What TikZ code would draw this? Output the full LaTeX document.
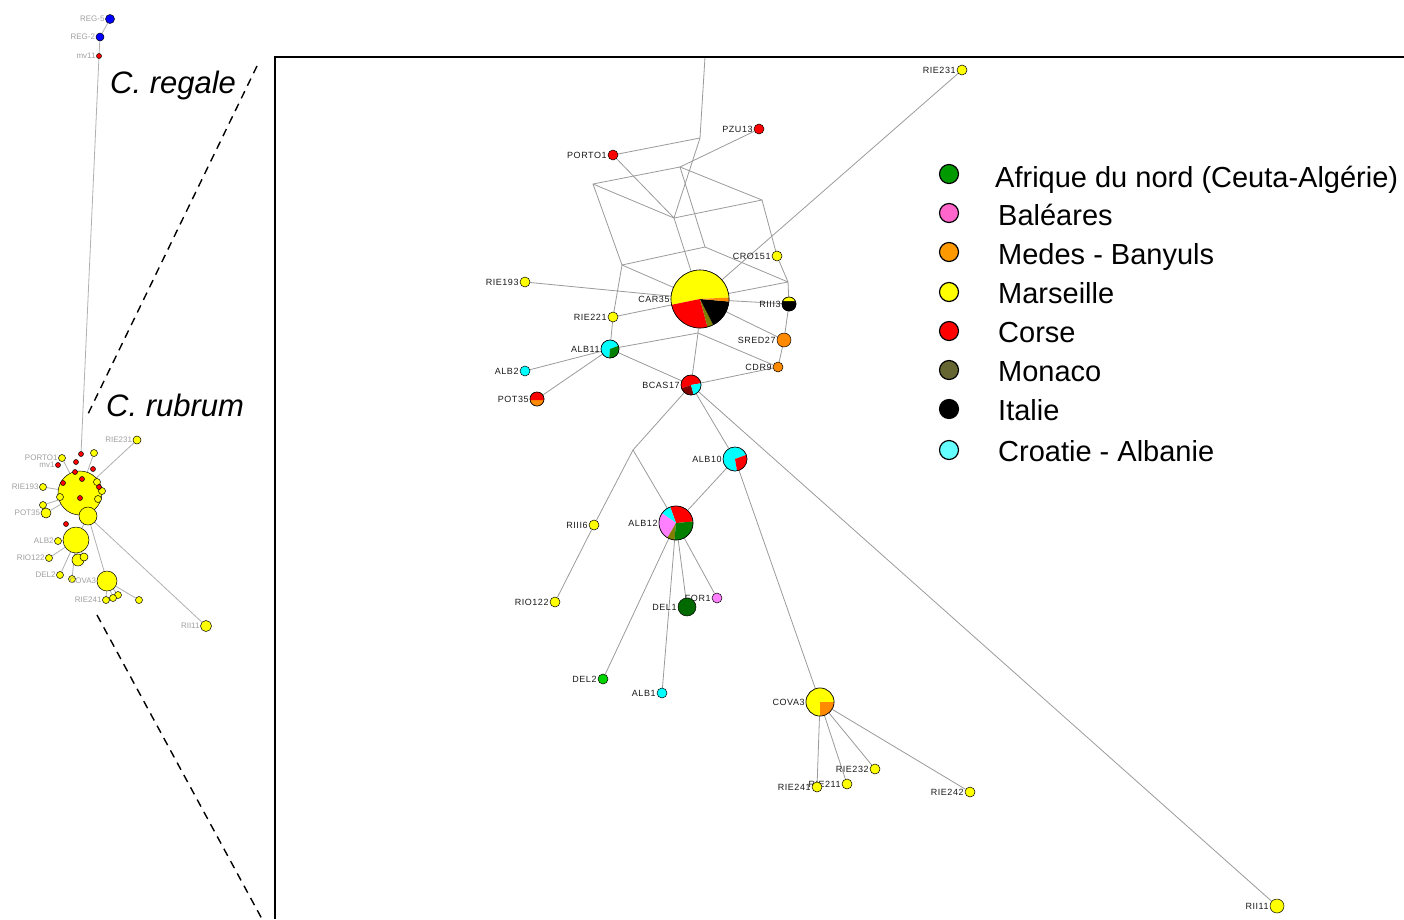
\documentclass[tikz,border=0pt]{standalone}
\usepackage{fontspec}
\setmainfont{Liberation Sans}
\newfontfamily\lblfont{Liberation Sans}[LetterSpace=6]
\usetikzlibrary{backgrounds}
\definecolor{edgegray}{HTML}{9A9A9A}
\definecolor{sedge}{HTML}{B0B0B0}
\definecolor{cyanP}{HTML}{00FFFF}
\definecolor{greenP}{HTML}{007F00}
\definecolor{delone}{HTML}{006A00}
\definecolor{deltwo}{HTML}{00D400}
\definecolor{pinkP}{HTML}{FF80FF}
\definecolor{orangeP}{HTML}{FF8A00}
\definecolor{oliveP}{HTML}{7F7F00}
\definecolor{darkredP}{HTML}{800000}
\definecolor{yellowP}{HTML}{FFFF00}
\definecolor{redP}{HTML}{FF0000}
\definecolor{blueR}{HTML}{0000FF}
\definecolor{legGreen}{HTML}{009900}
\definecolor{legPink}{HTML}{FF66CC}
\definecolor{legOrange}{HTML}{FF9900}
\definecolor{legOlive}{HTML}{666633}
\definecolor{legCyan}{HTML}{66FFFF}
\newcommand\mypie[5]{\fill[#5] (#1.center) -- +(#3:#2) arc[start angle=#3,end angle=#4,radius=#2] -- cycle;}
\newcommand\mychord[5]{\fill[#5] (#1.center) ++(#3:#2) arc[start angle=#3,end angle=#4,radius=#2] -- cycle;}
\newcommand\mypieo[2]{\draw[line width=0.6pt] (#1.center) circle[radius=#2];}
\begin{document}
\begin{tikzpicture}[x=1pt,y=1pt,
  sn/.style={circle,draw=black,line width=0.5pt,inner sep=0pt,minimum size=#1},
  lbl/.style={font={\lblfont\fontsize{9}{10}\selectfont},text=black!90,inner sep=1pt},
  lab/.style={label={[lbl]left:#1}},
  slbl/.style={font={\fontsize{8}{9}\selectfont},text=gray!75,inner sep=0.5pt},
  slab/.style={label={[slbl]left:#1}},
  edge/.style={draw=edgegray,line width=0.8pt},
  sedg/.style={draw=sedge,line width=0.8pt},
  legdot/.style={circle,draw=black,line width=1.2pt,inner sep=0pt,minimum size=19pt},
  legtxt/.style={anchor=base west,inner sep=0pt,font={\fontsize{29}{33}\selectfont}},
  species/.style={anchor=base west,inner sep=0pt,font={\itshape\fontsize{31}{35}\selectfont}},
  frame/.style={line width=2pt,draw=black},
  zoomline/.style={line width=1.4pt,dash pattern=on 8pt off 6pt}]
\path[use as bounding box] (0,-919) rectangle (1404,0);

% ---------------- left overview panel ----------------
\node[sn=9pt,fill=blueR,slab=REG-5] (sREG5) at (110,-19) {};
\node[sn=8pt,fill=blueR,slab=REG-2] (sREG2) at (100,-37) {};
\node[sn=5pt,fill=redP,slab=mv11] (smv11) at (99,-56) {};
\node[sn=44pt,fill=yellowP] (sCAR) at (80,-493) {};
\node[sn=8pt,fill=yellowP,slab=RIE231] (sRIE231) at (137,-440) {};
\node[sn=7pt,fill=yellowP] (sy1) at (94,-453) {};
\node[sn=7pt,fill=yellowP,slab=PORTO1] (sPORTO) at (62,-458) {};
\node[sn=7pt,fill=yellowP,slab=RIE193] (sRIE193) at (43,-487) {};
\node[sn=7pt,fill=yellowP] (sy2) at (97,-482) {};
\node[sn=7pt,fill=yellowP] (sy3) at (102,-491) {};
\node[sn=7pt,fill=yellowP] (sy4) at (98,-499) {};
\node[sn=7pt,fill=yellowP] (sALB11) at (43,-505) {};
\node[sn=10pt,fill=yellowP,slab=POT35] (sPOT35) at (46,-513) {};
\node[sn=7pt,fill=yellowP] (sRIE221) at (60,-497) {};
\node[sn=5pt,fill=redP] (sPZ) at (81,-454) {};
\node[sn=5pt,fill=redP] (sr1) at (76,-462) {};
\node[sn=5pt,fill=redP,slab=mv1] (smv1) at (58,-465) {};
\node[sn=5pt,fill=redP] (sr3) at (93,-469) {};
\node[sn=5pt,fill=redP] (sr4) at (75,-472) {};
\node[sn=5pt,fill=redP] (sr5) at (63,-483) {};
\node[sn=5pt,fill=redP] (sr6) at (82,-479) {};
\node[sn=5pt,fill=redP] (sr7) at (99,-487) {};
\node[sn=5pt,fill=redP] (sr8) at (80,-498) {};
\node[sn=18pt,fill=yellowP] (sBC) at (88,-516) {};
\node[sn=5pt,fill=redP] (sr9) at (66,-524) {};
\node[sn=26pt,fill=yellowP] (sALB) at (76,-540) {};
\node[sn=7pt,fill=yellowP,slab=ALB2] (sALB2) at (58,-541) {};
\node[sn=7pt,fill=yellowP,slab=RIO122] (sRIO) at (49,-558) {};
\node[sn=12pt,fill=yellowP] (sDEL1) at (78,-560) {};
\node[sn=8pt,fill=yellowP] (sFOR) at (84,-557) {};
\node[sn=7pt,fill=yellowP,slab=DEL2] (sDEL2) at (60,-575) {};
\node[sn=7pt,fill=yellowP] (sALB1) at (72,-579) {};
\node[sn=20pt,fill=yellowP,slab=COVA3] (sCOVA) at (107,-581) {};
\node[sn=7pt,fill=yellowP] (sRIE232) at (118,-595) {};
\node[sn=7pt,fill=yellowP] (sRIE211) at (113,-598) {};
\node[sn=7pt,fill=yellowP,slab=RIE241] (sRIE241) at (106,-600) {};
\node[sn=7pt,fill=yellowP] (sRIE242) at (139,-600) {};
\node[sn=11pt,fill=yellowP,slab=RII11] (sRII11) at (206,-626) {};

\node[species] (regale) at (110,-93) {C. regale};
\node[species] (rubrum) at (106,-416) {C. rubrum};

\begin{pgfonlayer}{background}
\foreach \a/\b in {sREG5/sREG2,sREG2/smv11,smv11/sPZ,sCAR/sRIE231,sCAR/sBC,sBC/sRII11,
  sBC/sCOVA,sBC/sALB,sALB/sALB2,sALB/sRIO,sALB/sDEL2,sALB/sALB1,sALB/sDEL1,sALB/sFOR,
  sCOVA/sRIE241,sCOVA/sRIE211,sCOVA/sRIE232,sCOVA/sRIE242,sCAR/sRIE193,sCAR/sPORTO,
  sCAR/sPOT35,sCAR/sALB11,sCAR/sy1}
  \draw[sedg] (\a) -- (\b);
\end{pgfonlayer}

% ---------------- frame and zoom lines ----------------
\coordinate (fBL) at (275,-919);
\coordinate (fTL) at (275,-57);
\coordinate (fTR) at (1404,-57);
\draw[frame] (fBL) -- (fTL) -- (fTR);
\coordinate (zA) at (257,-66);
\coordinate (zB) at (88,-414);
\coordinate (zC) at (97,-615);
\coordinate (zD) at (262,-919);
\draw[zoomline] (zA) -- (zB);
\draw[zoomline] (zC) -- (zD);

% ---------------- main network ----------------
\node[sn=10pt,fill=yellowP,lab=RIE231] (RIE231) at (962,-70) {};
\node[sn=10pt,fill=redP,lab=PZU13] (PZU13) at (759,-129) {};
\node[sn=10pt,fill=redP,lab=PORTO1] (PORTO1) at (613,-155) {};
\node[sn=10pt,fill=yellowP,lab=CRO151] (CRO151) at (777,-256) {};
\node[sn=10pt,fill=yellowP,lab=RIE193] (RIE193) at (525,-282) {};
\node[sn=58pt,lab=CAR35] (CAR35) at (700,-299) {};
\node[sn=14pt,lab=RIII3] (RIII3) at (789,-304) {};
\node[sn=10pt,fill=yellowP,lab=RIE221] (RIE221) at (613,-317) {};
\node[sn=14pt,fill=orangeP,lab=SRED27] (SRED27) at (784,-340) {};
\node[sn=18pt,lab=ALB11] (ALB11) at (610,-349) {};
\node[sn=10pt,fill=orangeP,lab=CDR9] (CDR9) at (778,-367) {};
\node[sn=10pt,fill=cyanP,lab=ALB2] (ALB2) at (525,-371) {};
\node[sn=20pt,lab=BCAS17] (BCAS17) at (691,-385) {};
\node[sn=14pt,lab=POT35] (POT35) at (537,-399) {};
\node[sn=24pt,lab=ALB10] (ALB10) at (735,-459) {};
\node[sn=10pt,fill=yellowP,lab=RIII6] (RIII6) at (594,-525) {};
\node[sn=34pt,lab=ALB12] (ALB12) at (676,-523) {};
\node[sn=10pt,fill=pinkP,lab=FOR1] (FOR1) at (717,-598) {};
\node[sn=18pt,fill=delone,lab=DEL1] (DEL1) at (687,-607) {};
\node[sn=10pt,fill=yellowP,lab=RIO122] (RIO122) at (555,-602) {};
\node[sn=10pt,fill=deltwo,lab=DEL2] (DEL2) at (603,-679) {};
\node[sn=10pt,fill=cyanP,lab=ALB1] (ALB1) at (662,-693) {};
\node[sn=28pt,lab=COVA3] (COVA3) at (820,-702) {};
\node[sn=10pt,fill=yellowP,lab=RIE232] (RIE232) at (875,-769) {};
\node[sn=10pt,fill=yellowP,lab=RIE211] (RIE211) at (847,-784) {};
\node[sn=10pt,fill=yellowP,lab=RIE241] (RIE241) at (817,-787) {};
\node[sn=10pt,fill=yellowP,lab=RIE242] (RIE242) at (970,-792) {};
\node[sn=14pt,fill=yellowP,lab=RII11] (RII11) at (1277,-906) {};

% pie charts
\mypie{CAR35}{29}{3}{191.6}{yellowP}
\mypie{CAR35}{29}{191.6}{285}{redP}
\mypie{CAR35}{29}{285}{297}{oliveP}
\mypie{CAR35}{29}{297}{355}{black}
\mypie{CAR35}{29}{355}{363}{orangeP}
\mypieo{CAR35}{29}
\fill[black] (RIII3.center) circle[radius=7];
\mychord{RIII3}{7}{25}{155}{yellowP}
\mypieo{RIII3}{7}
\mypie{ALB11}{9}{21}{265}{cyanP}
\mypie{ALB11}{9}{265}{381}{greenP}
\mypieo{ALB11}{9}
\mypie{BCAS17}{10}{10}{200}{redP}
\mypie{BCAS17}{10}{200}{285}{darkredP}
\mypie{BCAS17}{10}{285}{370}{cyanP}
\mypieo{BCAS17}{10}
\fill[orangeP] (POT35.center) circle[radius=7];
\mychord{POT35}{7}{-10}{190}{redP}
\mypieo{POT35}{7}
\mypie{ALB10}{12}{20}{280}{cyanP}
\mypie{ALB10}{12}{280}{380}{redP}
\mypieo{ALB10}{12}
\mypie{ALB12}{17}{5}{110}{redP}
\mypie{ALB12}{17}{110}{145}{cyanP}
\mypie{ALB12}{17}{145}{240}{pinkP}
\mypie{ALB12}{17}{240}{265}{oliveP}
\mypie{ALB12}{17}{265}{365}{greenP}
\mypieo{ALB12}{17}
\mypie{COVA3}{14}{0}{270}{yellowP}
\mypie{COVA3}{14}{270}{360}{orangeP}
\mypieo{COVA3}{14}

% median vectors
\coordinate (M0) at (705,-57);
\coordinate (M1) at (700,-138);
\coordinate (M2) at (674,-218);
\coordinate (M3) at (680,-167);
\coordinate (M4) at (593,-184);
\coordinate (M5) at (762,-200);
\coordinate (M6) at (622,-265);
\coordinate (M7) at (705,-247);
\coordinate (M8) at (788,-282);
\coordinate (M10) at (698,-333);
\coordinate (M9) at (633,-450);

\begin{pgfonlayer}{background}
\foreach \a/\b in {M0/M1,M1/PORTO1,M1/M2,PORTO1/M2,PZU13/M3,M4/M3,M3/M5,M4/M2,M2/M5,
  M3/M7,M4/M6,M2/CAR35,M5/CRO151,CRO151/M8,M6/M7,M7/M8,M6/CAR35,M6/RIE221,
  RIE221/CAR35,RIE221/ALB11,RIE193/CAR35,RIE231/CAR35,M8/CAR35,CAR35/RIII3,M8/RIII3,
  RIII3/SRED27,SRED27/CDR9,CAR35/SRED27,CAR35/M10,M10/BCAS17,M10/ALB11,M10/CDR9,
  CDR9/BCAS17,ALB11/BCAS17,ALB11/ALB2,ALB11/POT35,BCAS17/M9,M9/RIII6,RIII6/RIO122,
  M9/ALB12,BCAS17/ALB10,BCAS17/RII11,ALB10/ALB12,ALB10/COVA3,ALB12/DEL2,ALB12/ALB1,
  ALB12/DEL1,ALB12/FOR1,COVA3/RIE241,COVA3/RIE211,COVA3/RIE232,COVA3/RIE242}
  \draw[edge] (\a) -- (\b);
\end{pgfonlayer}

% ---------------- legend ----------------
\node[legdot,fill=legGreen] (lg1) at (949,-174) {};
\node[legdot,fill=legPink] (lg2) at (949,-213) {};
\node[legdot,fill=legOrange] (lg3) at (949,-252) {};
\node[legdot,fill=yellowP] (lg4) at (949,-292) {};
\node[legdot,fill=redP] (lg5) at (949,-331) {};
\node[legdot,fill=legOlive] (lg6) at (949,-370) {};
\node[legdot,fill=black] (lg7) at (949,-409) {};
\node[legdot,fill=legCyan] (lg8) at (949,-450) {};
\node[legtxt] (lt1) at (995,-187) {Afrique du nord (Ceuta-Algérie)};
\node[legtxt] (lt2) at (998,-225) {Baléares};
\node[legtxt] (lt3) at (998,-264) {Medes - Banyuls};
\node[legtxt] (lt4) at (998,-303) {Marseille};
\node[legtxt] (lt5) at (998,-342) {Corse};
\node[legtxt] (lt6) at (998,-381) {Monaco};
\node[legtxt] (lt7) at (998,-420) {Italie};
\node[legtxt] (lt8) at (998,-461) {Croatie - Albanie};
\end{tikzpicture}
\end{document}
